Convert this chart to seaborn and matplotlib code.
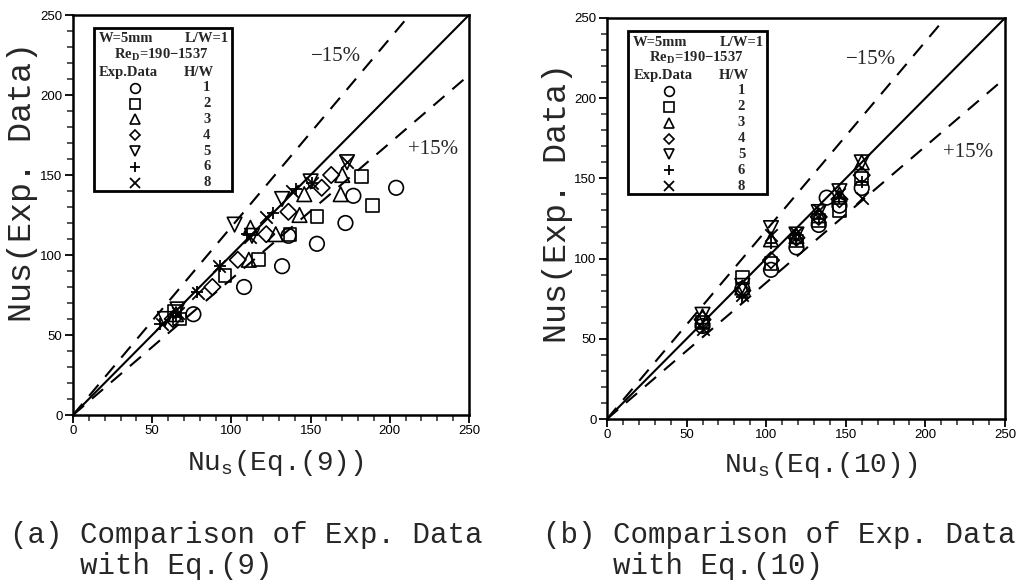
import numpy as np
import pandas as pd
import matplotlib
matplotlib.use("Agg")
import matplotlib.pyplot as plt
import seaborn as sns
from matplotlib.patches import Rectangle
from matplotlib.ticker import MultipleLocator

# ---------------- data ----------------
hw_levels = ["1", "2", "3", "4", "5", "6", "8"]
hw_markers = ["o", "s", "^", "D", "v", "+", "x"]

# Panel (a): Nu_s(Eq.(9)) vs Nu_s(Exp. Data)
a_hw1_x = [76, 108, 132, 136, 154, 172, 177, 204]
a_hw1_y = [63, 80, 93, 112, 107, 120, 137, 142]
a_hw2_x = [64, 67, 96, 117, 137, 154, 182, 189]
a_hw2_y = [65, 60, 87, 97, 113, 124, 149, 131]
a_hw3_x = [65, 111, 112, 128, 143, 146, 169, 170]
a_hw3_y = [63, 97, 117, 113, 125, 138, 138, 150]
a_hw4_x = [63, 88, 104, 122, 136, 157, 163]
a_hw4_y = [60, 80, 97, 113, 127, 142, 150]
a_hw5_x = [58, 66, 102, 113, 132, 150, 173]
a_hw5_y = [60, 66, 119, 112, 135, 146, 158]
a_hw6_x = [55, 65, 78, 93, 110, 126, 141, 151]
a_hw6_y = [57, 62, 77, 93, 113, 126, 141, 145]
a_hw8_x = [56, 66, 79, 92, 112, 122, 138, 151, 173]
a_hw8_y = [57, 64, 76, 93, 111, 124, 140, 145, 158]

# Panel (b): Nu_s(Eq.(10)) vs Nu_s(Exp. Data)
b_hw1_x = [60, 85, 103, 119, 133, 138, 146, 160]
b_hw1_y = [58, 81, 93, 107, 121, 138, 133, 144]
b_hw2_x = [60, 85, 103, 119, 133, 146, 160]
b_hw2_y = [60, 88, 97, 111, 124, 130, 150]
b_hw3_x = [60, 85, 103, 119, 133, 146, 160]
b_hw3_y = [64, 82, 112, 114, 127, 140, 160]
b_hw4_x = [60, 85, 103, 119, 133, 146, 160]
b_hw4_y = [62, 80, 99, 113, 126, 137, 152]
b_hw5_x = [60, 85, 103, 119, 133, 146, 160]
b_hw5_y = [65, 83, 119, 115, 129, 142, 160]
b_hw6_x = [60, 85, 103, 119, 133, 146, 160]
b_hw6_y = [57, 76, 110, 112, 125, 138, 148]
b_hw8_x = [60, 85, 103, 119, 133, 146, 160]
b_hw8_y = [56, 77, 115, 116, 130, 140, 138]

a_series = [(a_hw1_x, a_hw1_y), (a_hw2_x, a_hw2_y), (a_hw3_x, a_hw3_y), (a_hw4_x, a_hw4_y),
            (a_hw5_x, a_hw5_y), (a_hw6_x, a_hw6_y), (a_hw8_x, a_hw8_y)]
b_series = [(b_hw1_x, b_hw1_y), (b_hw2_x, b_hw2_y), (b_hw3_x, b_hw3_y), (b_hw4_x, b_hw4_y),
            (b_hw5_x, b_hw5_y), (b_hw6_x, b_hw6_y), (b_hw8_x, b_hw8_y)]

line_x = [0, 250]
dev_factors = [1 / 0.85, 0.85]   # -15% (upper) and +15% (lower)
tick_major = [0, 50, 100, 150, 200, 250]

legend_head1 = ("W=5mm", "L/W=1")
legend_head2 = "Re$_\\mathregular{D}$=190\u22121537"
legend_head3 = ("Exp.Data", "H/W")

# ---------------- style ----------------
sns.set_theme(style="ticks")
plt.rcParams["font.family"] = ["Liberation Sans", "DejaVu Sans"]
plt.rcParams["mathtext.fontset"] = "custom"
plt.rcParams["mathtext.rm"] = "Liberation Serif:bold"

W, H = 1021, 580
fig = plt.figure(figsize=(W / 100, H / 100), dpi=100)
fig.patch.set_facecolor("white")

ax_a = fig.add_axes([73 / W, 1 - 415 / H, 396 / W, 400 / H])
ax_b = fig.add_axes([607 / W, 1 - 419 / H, 398 / W, 401 / H])


def build_df(series):
    rows = []
    for lev, (xs, ys) in zip(hw_levels, series):
        for xv, yv in zip(xs, ys):
            rows.append({"pred": xv, "exp": yv, "hw": lev})
    return pd.DataFrame(rows)


def draw_panel(ax, series):
    df = build_df(series)
    # reference lines
    sns.lineplot(x=line_x, y=line_x, ax=ax, color="black", lw=1.5)
    for f in dev_factors:
        sns.lineplot(x=line_x, y=[v * f for v in line_x], ax=ax, color="black",
                     lw=1.5, linestyle=(0, (7, 5)))
    for lev, mk in zip(hw_levels, hw_markers):
        sub = df[df["hw"] == lev]
        if mk in ("+", "x"):
            sns.scatterplot(data=sub, x="pred", y="exp", ax=ax, marker=mk,
                            color="black", s=80, linewidth=1.3, zorder=3)
        else:
            sz = 70 if mk == "D" else 110
            if mk == "s":
                sz = 85
            sns.scatterplot(data=sub, x="pred", y="exp", ax=ax, marker=mk,
                            facecolor="none", edgecolor="black", s=sz,
                            linewidth=1.2, zorder=3)
    ax.set_xlim(0, 250)
    ax.set_ylim(0, 250)
    ax.set_xticks(tick_major)
    ax.set_yticks(tick_major)
    ax.xaxis.set_minor_locator(MultipleLocator(10))
    ax.yaxis.set_minor_locator(MultipleLocator(10))
    ax.tick_params(which="major", direction="out", length=6, width=1.3,
                   labelsize=9.5, pad=1.5, colors="black")
    ax.tick_params(which="minor", direction="out", length=4, width=1.1)
    for sp in ax.spines.values():
        sp.set_visible(True)
        sp.set_linewidth(1.8)
        sp.set_color("black")
    ax.set_xlabel("")
    ax.set_ylabel("")
    ax.set_facecolor("white")
    if ax.get_legend() is not None:
        ax.get_legend().remove()

    # legend box
    tr = ax.transAxes
    ax.add_patch(Rectangle((0.054, 0.56), 0.348, 0.407, transform=tr,
                           fill=False, lw=2.0, ec="black", zorder=5))
    fkw = dict(transform=tr, family="Liberation Serif", weight="bold",
               fontsize=10.5, va="center", zorder=6)
    ax.text(0.064, 0.940, legend_head1[0], ha="left", **fkw)
    ax.text(0.394, 0.940, legend_head1[1], ha="right", **fkw)
    ax.text(0.224, 0.900, legend_head2, ha="center", **fkw)
    ax.text(0.066, 0.857, legend_head3[0], ha="left", **fkw)
    ax.text(0.356, 0.857, legend_head3[1], ha="right", **fkw)
    for i, (lev, mk) in enumerate(zip(hw_levels, hw_markers)):
        yy = 0.818 - i * 0.0395
        if mk in ("+", "x"):
            ax.plot([0.157], [yy], marker=mk, ms=7, mew=1.3, color="black",
                    transform=tr, zorder=6, clip_on=False, ls="none")
        else:
            ms = 5.5 if mk == "D" else 7
            ax.plot([0.157], [yy], marker=mk, ms=ms, mew=1.2, mfc="none",
                    mec="black", transform=tr, zorder=6, clip_on=False, ls="none")
        ax.text(0.338, yy, lev, ha="center", **fkw)

    # deviation labels
    lkw = dict(family="Liberation Serif", fontsize=15, ha="center", va="center")
    ax.text(166, 224, "\u221215%", **lkw)
    ax.text(227, 166, "+15%", **lkw)


draw_panel(ax_a, a_series)
draw_panel(ax_b, b_series)

mono = "Liberation Mono"
# y labels
fig.text(23 / W, 1 - 182 / H, "Nus(Exp. Data)", rotation=90, ha="center",
         va="center", family=mono, fontsize=24)
fig.text(557 / W, 1 - 203 / H, "Nus(Exp. Data)", rotation=90, ha="center",
         va="center", family=mono, fontsize=24)
# x labels
fig.text(275 / W, 1 - 463 / H, "Nu$_\\mathregular{s}$(Eq.(9))", ha="center",
         va="center", family=mono, fontsize=20)
fig.text(821 / W, 1 - 465 / H, "Nu$_\\mathregular{s}$(Eq.(10))", ha="center",
         va="center", family=mono, fontsize=20)
# captions
ckw = dict(ha="left", va="center", family=mono, fontsize=21)
fig.text(10 / W, 1 - 535 / H, "(a) Comparison of Exp. Data", **ckw)
fig.text(10 / W, 1 - 566 / H, "    with Eq.(9)", **ckw)
fig.text(543 / W, 1 - 535 / H, "(b) Comparison of Exp. Data", **ckw)
fig.text(543 / W, 1 - 566 / H, "    with Eq.(10)", **ckw)

fig.savefig("out.png", dpi=100, facecolor="white")
